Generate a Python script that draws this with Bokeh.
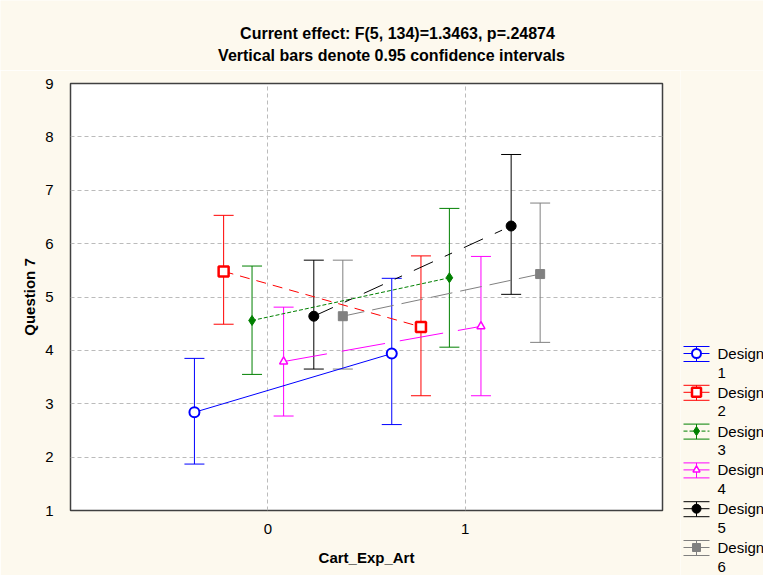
from bokeh.plotting import figure
from bokeh.layouts import column, row
from bokeh.models import ColumnDataSource, Whisker, TeeHead, Range1d, FixedTicker
from bokeh.transform import dodge
from bokeh.embed import file_html
from bokeh.resources import INLINE
from bokeh.core.properties import value

# ---- data -------------------------------------------------------------
levels = [0, 1]                      # Cart_Exp_Art
designs = ["Design 1", "Design 2", "Design 3", "Design 4", "Design 5", "Design 6"]
mean_at_0 = [2.84, 5.48, 4.56, 3.79, 4.64, 4.64]
mean_at_1 = [3.94, 4.44, 5.36, 4.45, 6.33, 5.43]
lower_at_0 = [1.87, 4.49, 3.55, 2.77, 3.65, 3.65]
upper_at_0 = [3.85, 6.53, 5.58, 4.81, 5.69, 5.69]
lower_at_1 = [2.61, 3.15, 4.06, 3.15, 5.05, 4.15]
upper_at_1 = [5.35, 5.77, 6.66, 5.76, 7.67, 6.76]
x_ticks = [0, 1]
y_ticks = [1, 2, 3, 4, 5, 6, 7, 8, 9]
title_lines = ["Current effect: F(5, 134)=1.3463, p=.24874",
               "Vertical bars denote 0.95 confidence intervals"]

# ---- styles -----------------------------------------------------------
CREAM = "#FDF9EE"
FONT = "Liberation Sans"
colors = ["#0000FF", "#FF0000", "#008000", "#FF00FF", "#000000", "#808080"]
dashes = ["solid", "10 7", "4 2", "44 15", "21 13 8 13", "22 8"]
markers = ["circle", "square", "diamond", "triangle", "circle", "square"]
marker_sizes = [10, 10, 10, 8, 10, 9]
marker_fill = ["white", "white", None, "white", None, None]
marker_lw = [2, 2.5, 1, 1.5, 1, 1]
offsets = [-0.372, -0.224, -0.08, 0.08, 0.233, 0.38]


def blank_panel(w, h, xr, yr):
    f = figure(width=w, height=h, x_range=xr, y_range=yr, min_border=0,
               toolbar_location=None, output_backend="svg",
               x_axis_location=None, y_axis_location=None)
    f.grid.visible = False
    f.outline_line_color = None
    f.background_fill_color = CREAM
    f.border_fill_color = CREAM
    return f


# ---- header with the two title lines ------------------------------------
head = blank_panel(763, 70, Range1d(0, 763), Range1d(70, 0))
head.text(x=[397, 391], y=[33, 55], text=title_lines, text_align="center",
          text_baseline="middle", text_font=value(FONT), text_font_style="bold",
          text_font_size="16px", text_color="#000000")

# ---- main plot ----------------------------------------------------------
p = figure(width=680, height=505, x_range=Range1d(-1, 2), y_range=Range1d(1, 9),
           min_border_left=70, min_border_right=18, min_border_top=13, min_border_bottom=65,
           toolbar_location=None, output_backend="svg")
p.background_fill_color = "white"
p.border_fill_color = CREAM
p.outline_line_color = "#404040"
p.outline_line_width = 1.5

p.xaxis.ticker = FixedTicker(ticks=x_ticks)
p.yaxis.ticker = FixedTicker(ticks=y_ticks)
p.xaxis.axis_label = "Cart_Exp_Art"
p.yaxis.axis_label = "Question 7"
for ax in (p.xaxis, p.yaxis):
    ax.axis_line_color = None
    ax.major_tick_line_color = None
    ax.minor_tick_line_color = None
    ax.major_tick_in = 0
    ax.major_tick_out = 0
    ax.major_label_text_font = FONT
    ax.major_label_text_font_size = "15px"
    ax.major_label_text_color = "#000000"
    ax.axis_label_text_font = FONT
    ax.axis_label_text_font_size = "15px"
    ax.axis_label_text_font_style = "bold"
    ax.axis_label_text_color = "#000000"
p.xaxis.major_label_standoff = 13
p.xaxis.axis_label_standoff = 12
p.yaxis.major_label_standoff = 17
p.yaxis.axis_label_standoff = 4

p.xgrid.ticker = FixedTicker(ticks=x_ticks)
p.ygrid.ticker = FixedTicker(ticks=y_ticks[1:-1])
p.grid.grid_line_color = "#BBBBBB"
p.grid.grid_line_dash = "4 3"
p.grid.grid_line_width = 1

for i, name in enumerate(designs):
    src = ColumnDataSource(dict(
        level=levels,
        mean=[mean_at_0[i], mean_at_1[i]],
        lower=[lower_at_0[i], lower_at_1[i]],
        upper=[upper_at_0[i], upper_at_1[i]],
    ))
    xs = dodge("level", offsets[i], range=p.x_range)
    c = colors[i]
    whisk = Whisker(source=src, base=xs, upper="upper", lower="lower",
                    line_color=c, line_width=1,
                    upper_head=TeeHead(size=20, line_color=c, line_width=1),
                    lower_head=TeeHead(size=20, line_color=c, line_width=1))
    p.add_layout(whisk)
    p.line(x=xs, y="mean", source=src, line_color=c, line_width=1, line_dash=dashes[i])
    p.scatter(x=xs, y="mean", source=src, marker=markers[i], size=marker_sizes[i],
              line_color=c, line_width=marker_lw[i],
              fill_color=marker_fill[i] if marker_fill[i] else c)

# ---- legend panel (pixel coordinates, origin at its top-left) ----------
leg = blank_panel(83, 505, Range1d(0, 83), Range1d(505, 0))

x0, x1, xc, xt = 3, 29, 16, 37
for i, name in enumerate(designs):
    cy = 283 + 38.8 * i
    c = colors[i]
    leg.segment(x0=[x0, x0], y0=[cy - 7, cy + 8], x1=[x1, x1], y1=[cy - 7, cy + 8],
                line_color=c, line_width=1)
    leg.segment(x0=[xc], y0=[cy - 7], x1=[xc], y1=[cy + 8], line_color=c, line_width=1)
    leg.segment(x0=[x0], y0=[cy], x1=[x1], y1=[cy], line_color=c, line_width=1,
                line_dash="solid" if i != 2 else dashes[2])
    leg.scatter(x=[xc], y=[cy], marker=markers[i], size=marker_sizes[i] - 1,
                line_color=c, line_width=marker_lw[i],
                fill_color=marker_fill[i] if marker_fill[i] else c)
    word, num = name.split(" ")
    leg.text(x=[xt, xt], y=[cy, cy + 19], text=[word, num], text_align="left",
             text_baseline="middle", text_font=value(FONT), text_font_size="15px",
             text_color="#000000")

layout = column(head, row(p, column(leg, spacing=0), spacing=0), spacing=0)

with open("out.html", "w") as f:
    f.write(file_html(layout, INLINE))
